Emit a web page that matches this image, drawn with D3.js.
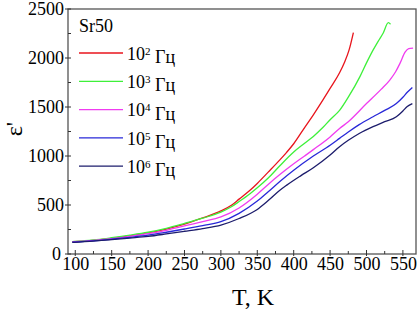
<!DOCTYPE html>
<html>
<head>
<meta charset="utf-8">
<script src="https://cdn.jsdelivr.net/npm/d3@7"></script>
<style>
  body { margin: 0; background: #fff; }
</style>
</head>
<body>
<div id="chart"></div>
<script>
// data
var sampleName = "Sr50";
var freqExp = ["2", "3", "4", "5", "6"];
var xTicks = [100, 150, 200, 250, 300, 350, 400, 450, 500, 550];
var yTicks = [0, 500, 1000, 1500, 2000, 2500];

var tRed   = [96, 125, 150, 175, 200, 225, 250, 275, 300, 315, 325, 340, 350, 365, 381, 390, 400, 415, 427, 440, 450, 463, 470, 476, 482];
var epsRed = [125, 140, 160, 185, 215, 255, 305, 368, 440, 500, 560, 650, 720, 835, 960, 1035, 1125, 1290, 1420, 1570, 1690, 1850, 1960, 2080, 2260];

var tGreen   = [96, 125, 150, 175, 200, 225, 250, 275, 300, 315, 325, 340, 350, 365, 381, 400, 415, 427, 440, 450, 463, 475, 491, 500, 509, 516, 523, 530, 533];
var epsGreen = [126, 143, 166, 192, 222, 262, 312, 365, 428, 485, 535, 615, 675, 775, 900, 1040, 1130, 1200, 1290, 1370, 1465, 1600, 1810, 1950, 2080, 2170, 2255, 2360, 2345];

var tMag   = [96, 125, 150, 175, 200, 225, 250, 275, 300, 325, 350, 365, 381, 400, 415, 427, 450, 463, 475, 500, 520, 532, 540, 546, 553, 558, 564];
var epsMag = [123, 138, 157, 180, 207, 242, 287, 330, 378, 470, 610, 710, 810, 920, 1000, 1065, 1195, 1280, 1350, 1535, 1680, 1775, 1860, 1945, 2060, 2095, 2100];

var tBlue   = [96, 125, 150, 175, 200, 225, 250, 275, 300, 325, 350, 365, 381, 400, 427, 450, 463, 475, 490, 509, 525, 541, 550, 556, 563];
var epsBlue = [120, 134, 151, 170, 192, 222, 255, 290, 330, 415, 540, 635, 740, 855, 1000, 1110, 1180, 1245, 1320, 1400, 1465, 1535, 1600, 1650, 1700];

var tNavy   = [96, 125, 150, 175, 200, 225, 250, 275, 300, 325, 350, 365, 381, 390, 410, 427, 450, 463, 475, 490, 509, 525, 541, 550, 556, 563];
var epsNavy = [118, 131, 147, 163, 180, 205, 232, 260, 295, 362, 455, 545, 650, 700, 800, 880, 1010, 1095, 1160, 1230, 1300, 1350, 1400, 1460, 1505, 1535];

var series = [
  { t: tRed, eps: epsRed },
  { t: tGreen, eps: epsGreen },
  { t: tMag, eps: epsMag },
  { t: tBlue, eps: epsBlue },
  { t: tNavy, eps: epsNavy }
];
var colors = ["#e8141c", "#3ef03a", "#f03cf0", "#2828d8", "#1c1c6c"];
var serif = "'Liberation Serif'";

// set the dimensions and margins of the graph
var W = 419, H = 309;
var margin = { top: 9, right: 3, bottom: 55, left: 68 },
  width = W - margin.left - margin.right,
  height = H - margin.top - margin.bottom;

var svg = d3.select("#chart")
  .append("svg")
  .attr("width", W)
  .attr("height", H)
  .append("g")
  .attr("transform", "translate(" + margin.left + "," + margin.top + ")");

var x = d3.scaleLinear().domain([90, 568]).range([0, width]);
var y = d3.scaleLinear().domain([0, 2500]).range([height, 0]);

// frame
svg.append("rect")
  .attr("width", width)
  .attr("height", height)
  .attr("fill", "none")
  .attr("stroke", "#555")
  .attr("stroke-width", 1.3);

// X axis: major ticks with labels, minor ticks inside
var xAxis = svg.append("g")
  .attr("transform", "translate(0," + height + ")")
  .call(d3.axisBottom(x).tickValues(xTicks).tickSize(0).tickPadding(0).tickFormat(d3.format("d")));
xAxis.select(".domain").remove();
xAxis.selectAll("text")
  .style("font-family", serif)
  .style("font-size", "18px")
  .attr("fill", "#000")
  .attr("y", 15.5)
  .attr("dy", null);

svg.selectAll("xmajor")
  .data(xTicks)
  .enter()
  .append("line")
  .attr("x1", function (d) { return x(d); })
  .attr("x2", function (d) { return x(d); })
  .attr("y1", height - 4)
  .attr("y2", height + 2)
  .attr("stroke", "#333");

svg.selectAll("xminor")
  .data(d3.range(125, 575, 50))
  .enter()
  .append("line")
  .attr("x1", function (d) { return x(d); })
  .attr("x2", function (d) { return x(d); })
  .attr("y1", height - 3)
  .attr("y2", height)
  .attr("stroke", "#333");

// Y axis
var yAxis = svg.append("g")
  .call(d3.axisLeft(y).tickValues(yTicks).tickSize(0).tickPadding(4).tickFormat(d3.format("d")));
yAxis.select(".domain").remove();
yAxis.selectAll("text")
  .style("font-family", serif)
  .style("font-size", "18px")
  .attr("fill", "#000")
  .attr("dy", "0.33em")
  .attr("x", function (d) { return d === 0 ? -7 : -4; });

svg.selectAll("ymajor")
  .data(yTicks)
  .enter()
  .append("line")
  .attr("x1", -3)
  .attr("x2", 3)
  .attr("y1", function (d) { return y(d); })
  .attr("y2", function (d) { return y(d); })
  .attr("stroke", "#333");

svg.selectAll("yminor")
  .data(d3.range(250, 2500, 500))
  .enter()
  .append("line")
  .attr("x1", 0)
  .attr("x2", 3)
  .attr("y1", function (d) { return y(d); })
  .attr("y2", function (d) { return y(d); })
  .attr("stroke", "#333");

// axis titles
svg.append("text")
  .attr("x", 185)
  .attr("y", 296)
  .attr("text-anchor", "middle")
  .style("font-family", serif)
  .style("font-size", "24px")
  .text("T, K");

svg.append("text")
  .attr("transform", "translate(-46," + 120 + ") rotate(-90)")
  .attr("text-anchor", "middle")
  .style("font-family", serif)
  .style("font-size", "24px")
  .text("ε'");

// curves
var line = d3.line()
  .curve(d3.curveMonotoneX)
  .x(function (d) { return x(d[0]); })
  .y(function (d) { return y(d[1]); });

series.forEach(function (s, i) {
  svg.append("path")
    .datum(d3.zip(s.t, s.eps))
    .attr("fill", "none")
    .attr("stroke", colors[i])
    .attr("stroke-width", 1.3)
    .attr("d", line);
});

// legend
svg.append("text")
  .attr("x", 11)
  .attr("y", 23)
  .style("font-family", serif)
  .style("font-size", "18px")
  .text(sampleName);

var legend = svg.selectAll("legrow")
  .data(freqExp)
  .enter()
  .append("g")
  .attr("transform", function (d, i) { return "translate(11," + (44 + i * 28.3) + ")"; });

legend.append("line")
  .attr("x1", 0)
  .attr("x2", 44)
  .attr("stroke", function (d, i) { return colors[i]; })
  .attr("stroke-width", 1.3);

var lt = legend.append("text")
  .attr("x", 48)
  .attr("dy", "0.38em")
  .style("font-family", serif)
  .style("font-size", "18px");
lt.append("tspan").text("10");
lt.append("tspan")
  .attr("dy", "-0.45em")
  .style("font-size", "11px")
  .text(function (d) { return d; });
lt.append("tspan")
  .attr("dy", "0.45em")
  .text(" Гц");
</script>
</body>
</html>
